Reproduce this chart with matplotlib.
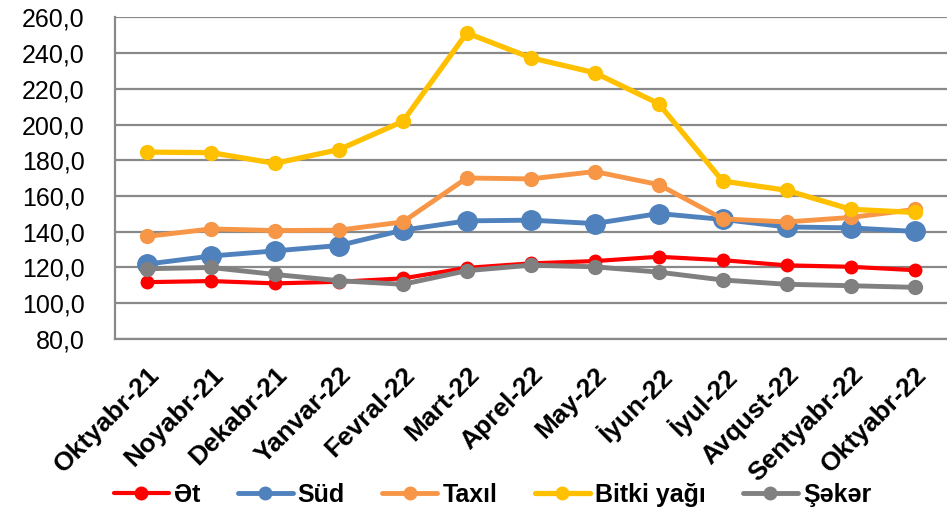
import matplotlib
matplotlib.use("Agg")
import matplotlib.pyplot as plt
from matplotlib.ticker import FuncFormatter

plt.rcParams["font.family"] = ["Liberation Sans", "DejaVu Sans"]

months = ["Oktyabr-21", "Noyabr-21", "Dekabr-21", "Yanvar-22", "Fevral-22", "Mart-22",
          "Aprel-22", "May-22", "İyun-22", "İyul-22", "Avqust-22", "Sentyabr-22", "Oktyabr-22"]

et = [111.8, 112.4, 111.1, 112.0, 113.9, 119.8, 122.3, 123.6, 126.0, 124.1, 121.2, 120.4, 118.5]
sud = [121.9, 126.4, 129.3, 132.3, 140.9, 146.1, 146.5, 144.6, 150.2, 146.9, 142.7, 142.2, 140.2]
taxil = [137.4, 141.6, 140.7, 140.9, 145.5, 170.1, 169.6, 173.7, 166.4, 147.2, 145.5, 148.0, 152.5]
bitki = [184.6, 184.3, 178.3, 186.0, 201.8, 251.3, 237.4, 229.0, 211.7, 168.4, 163.2, 152.6, 150.8]
seker = [119.3, 120.0, 116.1, 112.6, 110.6, 118.2, 121.3, 120.4, 117.4, 113.0, 110.6, 109.8, 108.9]

series = [
    ("Ət", et, "#FF0000", 9, 3.0),
    ("Süd", sud, "#4F81BD", 14, 3.5),
    ("Taxıl", taxil, "#F79646", 10, 3.5),
    ("Bitki yağı", bitki, "#FFC000", 10, 3.8),
    ("Şəkər", seker, "#808080", 10, 3.5),
]

fig = plt.figure(figsize=(9.47, 5.12), dpi=100)
ax = fig.add_axes([0.1215, 0.338, 0.878, 0.628])

x = list(range(len(months)))
for name, vals, col, ms, lw in series:
    ax.plot(x, vals, color=col, marker="o", markersize=ms, linewidth=lw,
            label=name, solid_capstyle="round", zorder=3)

ax.set_ylim(80, 260)
ax.set_yticks(range(80, 261, 20))
ax.yaxis.set_major_formatter(FuncFormatter(lambda v, p: f"{v:.1f}".replace(".", ",")))
ax.set_xlim(-0.5, len(months) - 0.5)
ax.set_xticks(x)
ax.set_xticklabels(months, rotation=45, ha="right", rotation_mode="anchor",
                   fontsize=19, fontweight="bold")
for lab in ax.get_yticklabels():
    lab.set_fontsize(18)

ax.grid(axis="y", color="#898989", linewidth=1.6, zorder=0)
ax.tick_params(axis="y", length=0, pad=22)
ax.tick_params(axis="x", length=0, pad=17)
for s in ["top", "right"]:
    ax.spines[s].set_visible(False)
for s in ["left", "bottom"]:
    ax.spines[s].set_color("#898989")
    ax.spines[s].set_linewidth(1.6)

leg = fig.legend(loc="center", bbox_to_anchor=(0.52, 0.033), ncol=5, frameon=False,
                 prop={"weight": "bold", "size": 18},
                 handlelength=2.2, handletextpad=0.2, columnspacing=1.5)
for ln in leg.get_lines():
    ln.set_markersize(9)

fig.savefig("out.png", dpi=100)
